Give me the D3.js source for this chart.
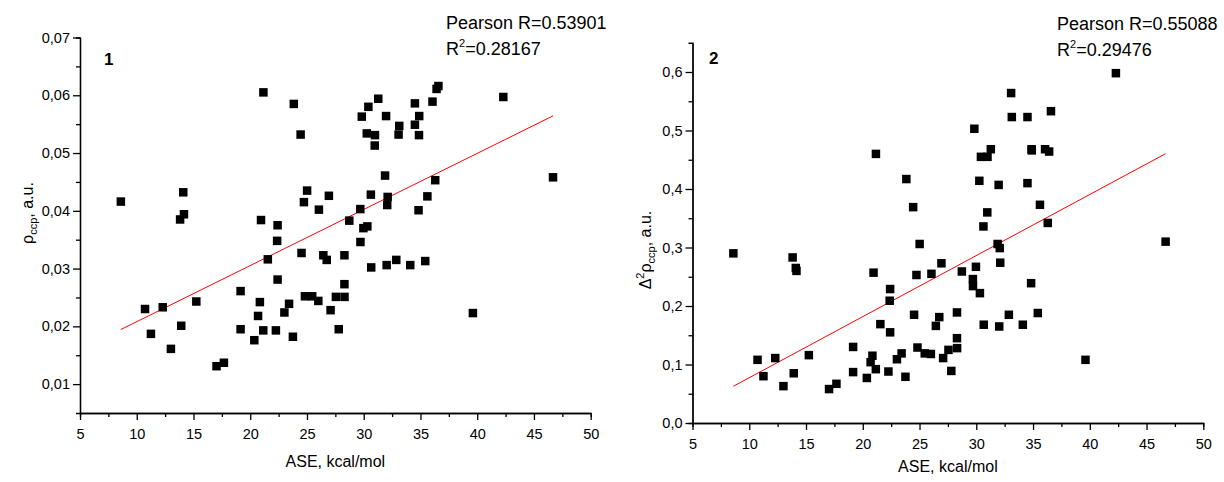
<!DOCTYPE html>
<html>
<head>
<meta charset="utf-8">
<script src="https://cdn.jsdelivr.net/npm/d3@7"></script>
<style>
  body { margin: 0; background: #fff; }
  svg { font-family: "Liberation Sans", Arial, sans-serif; }
</style>
</head>
<body>
<div id="chart"></div>
<script>
// ASE, kcal/mol (shared by both panels)
const ase = [8.60, 10.73, 11.25, 12.29, 13.01, 13.82, 13.92, 14.10, 14.16, 15.25,
  17.03, 17.68, 19.15, 19.15, 20.36, 20.69, 20.85, 20.95, 21.15, 21.16,
  21.55, 22.26, 22.37, 22.41, 22.41, 23.01, 23.42, 23.76, 23.84, 24.44,
  24.52, 24.73, 24.82, 25.01, 25.46, 26.00, 26.05, 26.44, 26.74, 26.93,
  27.08, 27.55, 27.80, 28.30, 28.30, 28.31, 28.73, 29.70, 29.71, 29.83,
  29.97, 30.27, 30.32, 30.41, 30.63, 30.66, 30.97, 30.99, 31.28, 31.88,
  31.97, 32.02, 32.07, 32.11, 32.87, 33.07, 33.13, 34.10, 34.51, 34.51,
  34.83, 34.87, 34.89, 35.42, 35.61, 36.06, 36.30, 36.42, 36.58, 39.62,
  42.30, 46.68];

// panel 1: rho_ccp, a.u.
const rhoCcp = [0.0416, 0.0230, 0.0187, 0.0233, 0.0161, 0.0385, 0.0201, 0.0432, 0.0394, 0.0243,
  0.0131, 0.0137, 0.0261, 0.0195, 0.0176, 0.0218, 0.0242, 0.0384, 0.0193, 0.0605,
  0.0316, 0.0193, 0.0348, 0.0375, 0.0281, 0.0224, 0.0239, 0.0182, 0.0585, 0.0532,
  0.0327, 0.0415, 0.0252, 0.0435, 0.0252, 0.0244, 0.0402, 0.0323, 0.0315, 0.0426,
  0.0228, 0.0251, 0.0195, 0.0323, 0.0273, 0.0251, 0.0383, 0.0403, 0.0346, 0.0563,
  0.0370, 0.0534, 0.0373, 0.0580, 0.0428, 0.0302, 0.0513, 0.0531, 0.0594, 0.0461,
  0.0564, 0.0306, 0.0410, 0.0424, 0.0315, 0.0532, 0.0547, 0.0306, 0.0586, 0.0549,
  0.0401, 0.0531, 0.0564, 0.0313, 0.0425, 0.0589, 0.0453, 0.0611, 0.0616, 0.0223,
  0.0597, 0.0458];

// panel 2: laplacian of rho_ccp, a.u.
const lapRhoCcp = [0.290, 0.108, 0.080, 0.111, 0.063, 0.283, 0.085, 0.265, 0.260, 0.116,
  0.058, 0.067, 0.130, 0.087, 0.077, 0.104, 0.115, 0.257, 0.092, 0.460,
  0.169, 0.088, 0.209, 0.229, 0.155, 0.109, 0.119, 0.079, 0.417, 0.369,
  0.185, 0.253, 0.129, 0.306, 0.119, 0.118, 0.255, 0.166, 0.181, 0.273,
  0.111, 0.125, 0.089, 0.189, 0.145, 0.128, 0.259, 0.246, 0.234, 0.503,
  0.267, 0.414, 0.222, 0.455, 0.336, 0.168, 0.360, 0.455, 0.468, 0.306,
  0.407, 0.165, 0.299, 0.274, 0.185, 0.564, 0.523, 0.168, 0.523, 0.410,
  0.239, 0.468, 0.466, 0.188, 0.373, 0.468, 0.342, 0.464, 0.533, 0.108,
  0.598, 0.310];

const xTicks = [5, 10, 15, 20, 25, 30, 35, 40, 45, 50];
const yTicks1 = [0.01, 0.02, 0.03, 0.04, 0.05, 0.06, 0.07];
const yTicks2 = [0.0, 0.1, 0.2, 0.3, 0.4, 0.5, 0.6];
const pearson = ["0.53901", "0.55088"];
const rSquared = ["0.28167", "0.29476"];

const svg = d3.select('#chart').append('svg')
  .attr('width', 1224).attr('height', 482);

// least squares line y = a + b x
function fit(xs, ys) {
  const mx = d3.mean(xs), my = d3.mean(ys);
  const sxy = d3.sum(xs, (x, i) => (x - mx) * (ys[i] - my));
  const sxx = d3.sum(xs, x => (x - mx) * (x - mx));
  const b = sxy / sxx;
  return [my - b * mx, b];
}

function panel(opt) {
  const x = d3.scaleLinear().domain([5, 50]).range(opt.xRange);
  const y = d3.scaleLinear().domain(opt.yDomain).range(opt.yRange);
  const g = svg.append('g');
  const comma = f => d => d3.format(f)(d).replace('.', ',');

  // minor ticks
  g.append('g').attr('transform', `translate(0,${opt.yRange[0]})`)
    .call(d3.axisBottom(x).tickValues(d3.range(7.5, 50, 5)).tickSize(4).tickFormat(''));
  g.append('g').attr('transform', `translate(${opt.xRange[0]},0)`)
    .call(d3.axisLeft(y).tickValues(opt.yMinor).tickSize(4).tickFormat(''));

  // major ticks
  g.append('g').attr('class', 'ax').attr('transform', `translate(0,${opt.yRange[0]})`)
    .call(d3.axisBottom(x).tickValues(xTicks).tickSize(7).tickSizeOuter(0).tickPadding(9)
      .tickFormat(d3.format('d')));
  g.append('g').attr('class', 'ax').attr('transform', `translate(${opt.xRange[0]},0)`)
    .call(d3.axisLeft(y).tickValues(opt.yTicks).tickSize(7).tickSizeOuter(0).tickPadding(3)
      .tickFormat(comma(opt.fmt)));

  g.selectAll('.domain, .tick line').attr('stroke', '#000').attr('stroke-width', 1.3);
  g.selectAll('.ax text').attr('font-size', 14.5).attr('fill', '#000')
    .attr('font-family', '"Liberation Sans", Arial, sans-serif');

  // fit line
  const [a, b] = fit(ase, opt.values);
  const xr = d3.extent(ase);
  g.append('line')
    .attr('x1', x(xr[0])).attr('y1', y(a + b * xr[0]))
    .attr('x2', x(xr[1])).attr('y2', y(a + b * xr[1]))
    .attr('stroke', '#ff0000').attr('stroke-width', 1);

  // points
  const s = 8.5;
  g.selectAll('rect.pt').data(ase).join('rect').attr('class', 'pt')
    .attr('x', d => x(d) - s / 2)
    .attr('y', (d, i) => y(opt.values[i]) - s / 2)
    .attr('width', s).attr('height', s).attr('fill', '#000');

  // texts
  g.append('text').attr('x', opt.numPos[0]).attr('y', opt.numPos[1])
    .attr('font-size', 17).attr('font-weight', 'bold').text(opt.num);

  g.append('text').attr('x', opt.statX).attr('y', opt.statY)
    .attr('font-size', 18).text('Pearson R=' + opt.r);
  const r2 = g.append('text').attr('x', opt.statX).attr('y', opt.statY + 26)
    .attr('font-size', 18);
  r2.append('tspan').text('R');
  r2.append('tspan').attr('font-size', 11).attr('dy', -8).text('2');
  r2.append('tspan').attr('dy', 8).text('=' + opt.r2);

  g.append('text').attr('x', (opt.xRange[0] + opt.xRange[1]) / 2).attr('y', opt.xTitleY)
    .attr('text-anchor', 'middle').attr('font-size', 16).text('ASE, kcal/mol');

  const yt = g.append('text').attr('text-anchor', 'middle').attr('font-size', 16)
    .attr('transform', `translate(${opt.yTitle[0]},${opt.yTitle[1]}) rotate(-90)`);
  opt.yLabel(yt);
}

panel({
  xRange: [80, 590.7], yDomain: [0.005, 0.07], yRange: [413, 37.5],
  yTicks: yTicks1, yMinor: d3.range(0.015, 0.07, 0.01), fmt: '.2f',
  values: rhoCcp, num: '1', numPos: [104, 65],
  statX: 446, statY: 29, r: pearson[0], r2: rSquared[0], xTitleY: 467,
  yTitle: [33, 213],
  yLabel: t => {
    t.append('tspan').text('ρ');
    t.append('tspan').attr('font-size', 11).attr('dy', 4).text('ccp');
    t.append('tspan').attr('dy', -4).text(', a.u.');
  }
});

panel({
  xRange: [692.5, 1203.3], yDomain: [0, 0.65], yRange: [423, 42.75],
  yTicks: yTicks2, yMinor: d3.range(0.05, 0.65, 0.1), fmt: '.1f',
  values: lapRhoCcp, num: '2', numPos: [709, 64],
  statX: 1057, statY: 30, r: pearson[1], r2: rSquared[1], xTitleY: 472,
  yTitle: [651, 250],
  yLabel: t => {
    t.append('tspan').text('Δ');
    t.append('tspan').attr('font-size', 11).attr('dy', -7).text('2');
    t.append('tspan').attr('dy', 7).text('ρ');
    t.append('tspan').attr('font-size', 11).attr('dy', 4).text('ccp');
    t.append('tspan').attr('dy', -4).text(', a.u.');
  }
});
</script>
</body>
</html>
